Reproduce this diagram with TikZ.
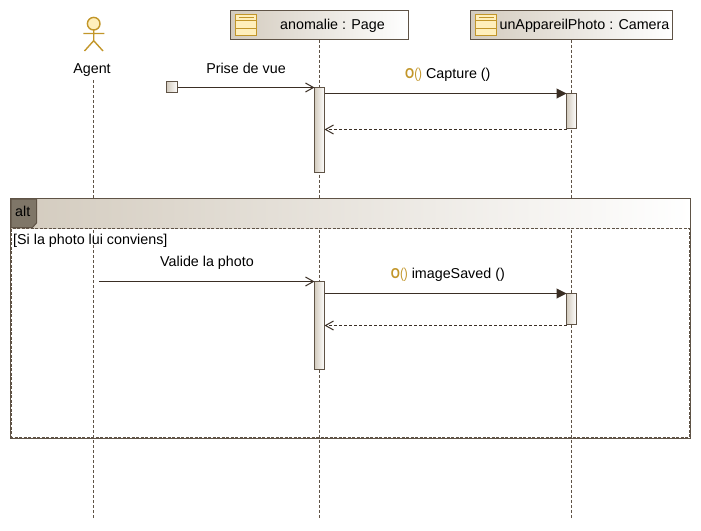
\documentclass[tikz,border=0pt]{standalone}
\usepackage{fontspec}
\setmainfont{Liberation Sans}
\usepackage{xcolor}
\usetikzlibrary{arrows.meta}
\definecolor{umlline}{HTML}{5F5346}
\definecolor{umltan}{HTML}{D3CBBE}
\definecolor{umlgold}{HTML}{C2962A}
\definecolor{umlfill}{HTML}{FFEFBC}
\definecolor{umltab}{HTML}{7F7668}
\definecolor{umlmsg}{HTML}{3A2E24}
\newcommand{\opmark}{\textcolor{umlgold}{\scalebox{0.82}[1]{\textbf{O}()}}}
\tikzset{
  headbox/.style={draw=umlline,line width=1pt,shade,shading angle=90,left color=umltan,right color=white,inner sep=0pt,outer sep=0pt,minimum height=29pt},
  actbox/.style={draw=umlline,line width=1pt,shade,shading angle=90,left color=umltan,right color=white,inner sep=0pt,outer sep=0pt,minimum width=10pt},
  txt/.style={inner sep=0pt,font=\fontsize{14.3}{16}\selectfont,text=black},
  lifeline/.style={umlline,line width=1pt,dash pattern=on 3pt off 2pt},
  msg/.style={umlmsg,line width=1pt,-{Triangle[length=10pt,width=10pt]}},
  found/.style={umlmsg,line width=1pt,-{Straight Barb[length=8pt,width=9pt]}},
  reply/.style={umlmsg,line width=1pt,dash pattern=on 3pt off 2pt,-{Straight Barb[length=8pt,width=9pt]}},
}
\begin{document}
\begin{tikzpicture}[x=1pt,y=-1pt]
  \useasboundingbox (0,0) rectangle (701,530);
  % lifelines
  \node[headbox,minimum width=178pt] (page) at (319.5,25) {};
  \node[headbox,minimum width=202pt] (camera) at (571.5,25) {};
  \node[txt] (pagelabel) at (332.5,26) {anomalie : Page};
  \node[txt] (cameralabel) at (584.5,26) {unAppareilPhoto : Camera};
  \node[txt] (agent) at (92,70.5) {Agent};
  \coordinate (agenttop) at (93.5,80);
  \coordinate (agentend) at (93.5,519);
  \coordinate (pageend) at (319.5,519);
  \coordinate (cameraend) at (571.5,519);
  \draw[lifeline] (agenttop) -- (agentend);
  \draw[lifeline] (page.south) -- (pageend);
  \draw[lifeline] (camera.south) -- (cameraend);
  % class icons
  \foreach \x in {235.5,475.5} {
    \draw[umlgold,line width=1.2pt,fill=umlfill] (\x,14.5) rectangle +(21,21);
    \draw[umlgold,line width=1pt] (\x,20.5) -- +(21,0) (\x,28.5) -- +(21,0) (\x+3,17.5) -- +(15,0);
  }
  % actor
  \draw[umlgold,line width=1.4pt,fill=umlfill] (93.7,23.7) circle (6.3);
  \draw[umlgold,line width=1.4pt] (93.7,30) -- (93.7,40.7) (83.3,33.5) -- (104.3,33.5) (84.5,51) -- (93.7,40.7) -- (103,51);
  % alt frame
  \fill[left color=umltan,right color=white,shading angle=90] (11,198.5) rectangle (690.5,228);
  \draw[umlline,line width=1pt,dash pattern=on 3pt off 1.5pt] (11.5,228.5) rectangle (689.5,437);
  \draw[umlline,line width=1pt] (10.5,228) |- (690.5,198.5) -- (690.5,438) -- (10.5,438) -- cycle;
  \draw[umlline,line width=1pt,fill=umltab] (11,199) -- (36.5,199) -- (36.5,223) -- (32.5,227.5) -- (11,227.5) -- cycle;
  \node[txt,anchor=west] (alt) at (15,211) {alt};
  \node[txt,anchor=west] (guard) at (13,240.5) {[Si la photo lui conviens]};
  % activations
  \node[actbox,minimum height=85pt] (act1) at (319.5,130) {};
  \node[actbox,minimum height=35pt] (cam1) at (571.5,111) {};
  \node[actbox,minimum height=88pt] (act2) at (319.5,325.5) {};
  \node[actbox,minimum height=31pt] (cam2) at (571.5,309) {};
  \node[draw=umlline,line width=1pt,shade,shading angle=90,left color=umltan,right color=white,inner sep=0pt,outer sep=0pt,minimum size=11pt] (start) at (172,87) {};
  \coordinate (validefrom) at (99,281.5);
  \coordinate (ret1) at (0,129.5);
  \coordinate (ret2) at (0,325.5);
  % messages
  \draw[found] (start.east |- act1.north) -- (act1.north west);
  \draw[msg] (act1.east |- cam1.north) -- (cam1.north west);
  \draw[reply] (cam1.west |- ret1) -- (act1.east |- ret1);
  \draw[found] (validefrom) -- (act2.north west);
  \draw[msg] (act2.east |- cam2.north) -- (cam2.north west);
  \draw[reply] (cam2.west |- ret2) -- (act2.east |- ret2);
  % labels
  \node[txt] (prise) at (246,68.5) {Prise de vue};
  \node[txt] (valide) at (207,262.5) {Valide la photo};
  \node[txt,anchor=west] (capture) at (405,74.5) {\opmark{} Capture ()};
  \node[txt,anchor=west] (saved) at (390.7,274.5) {\opmark{} imageSaved ()};
\end{tikzpicture}
\end{document}
